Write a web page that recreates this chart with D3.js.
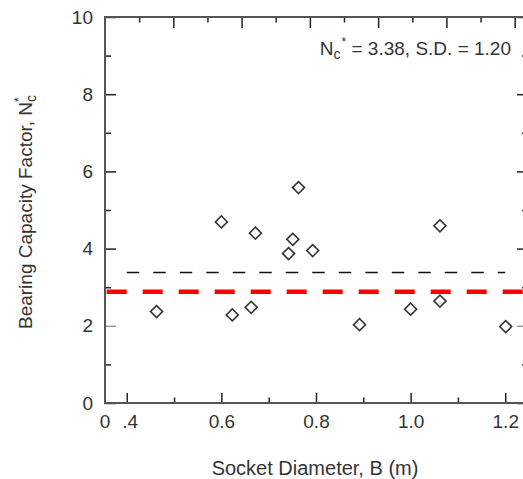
<!DOCTYPE html>
<html>
<head>
<meta charset="utf-8">
<script src="https://cdn.jsdelivr.net/npm/d3@7"></script>
<style>
  body { margin: 0; background: #fff; }
  svg { display: block; font-family: "Liberation Sans", Arial, sans-serif; }
</style>
</head>
<body>
<svg id="chart" width="523" height="479"></svg>
<script>
// socket diameter B (m) and back-calculated Nc* for each test
const diameters = [0.463, 0.600, 0.623, 0.663, 0.672, 0.742, 0.751, 0.763, 0.793, 0.892, 1.000, 1.062, 1.062, 1.201];
const ncValues   = [2.37, 4.69, 2.28, 2.48, 4.40, 3.87, 4.24, 5.58, 3.95, 2.03, 2.43, 2.64, 4.59, 1.98];

const meanNc = 3.38;     // black dashed line
const designNc = 2.88;   // red dashed line

const xMajor = [0.4, 0.6, 0.8, 1.0, 1.2];
const xMajorLabels = [".4", "0.6", "0.8", "1.0", "1.2"];
const xMinor = [0.5, 0.7, 0.9, 1.1];
const yMajor = [0, 2, 4, 6, 8, 10];
const yMinor = [1, 3, 5, 7, 9];
const topMajor = [1, 2, 3, 4, 5, 6];
const topMinor = [0.5, 1.5, 2.5, 3.5, 4.5, 5.5];

const plotL = 105, plotR = 527, plotT = 17, plotB = 403;

const svg = d3.select("#chart");

let x = d3.scaleLinear().domain([0.354, 1.246]).range([plotL, plotR]);
let y = d3.scaleLinear().domain([0, 10]).range([plotB, plotT]);
let xTop = d3.scaleLinear().domain([0, 6.18]).range([plotL, plotR]);

const tickColor = "#222";

function styleAxis(g) {
    g.select(".domain").remove();
    g.selectAll(".tick line").attr("stroke", tickColor).attr("stroke-width", 1.5);
    g.selectAll(".tick text")
        .attr("fill", "#333")
        .style("font-size", "19px")
        .style("font-family", "'Liberation Sans', Arial, sans-serif");
}

// left axis
svg.append("g").attr("transform", `translate(${plotL},0)`)
    .call(d3.axisLeft(y).tickValues(yMajor).tickSize(-11).tickPadding(12).tickFormat(d3.format("d")))
    .call(styleAxis);
svg.append("g").attr("transform", `translate(${plotL},0)`)
    .call(d3.axisLeft(y).tickValues(yMinor).tickSize(-6).tickFormat(""))
    .call(styleAxis);

// right axis (ticks only)
svg.append("g").attr("transform", `translate(${plotR},0)`)
    .call(d3.axisRight(y).tickValues(yMajor).tickSize(-10).tickFormat(""))
    .call(styleAxis);
svg.append("g").attr("transform", `translate(${plotR},0)`)
    .call(d3.axisRight(y).tickValues(yMinor).tickSize(-5).tickFormat(""))
    .call(styleAxis);

// the y = 2 ticks look lighter in the original
svg.selectAll(".tick").filter(d => d === 2).select("line").attr("stroke", "#999");

// bottom axis
svg.append("g").attr("transform", `translate(0,${plotB})`)
    .call(d3.axisBottom(x).tickValues(xMajor).tickSize(-10).tickPadding(12)
        .tickFormat((d, i) => xMajorLabels[i]))
    .call(styleAxis);
svg.append("g").attr("transform", `translate(0,${plotB})`)
    .call(d3.axisBottom(x).tickValues(xMinor).tickSize(-5.5).tickFormat(""))
    .call(styleAxis);

// top axis (ticks only)
svg.append("g").attr("transform", `translate(0,${plotT})`)
    .call(d3.axisTop(xTop).tickValues(topMajor).tickSize(-11).tickFormat(""))
    .call(styleAxis);
svg.append("g").attr("transform", `translate(0,${plotT})`)
    .call(d3.axisTop(xTop).tickValues(topMinor).tickSize(-5.5).tickFormat(""))
    .call(styleAxis);

// nudge ".4" a little right, it reads off-centre in the original
svg.selectAll(".tick text").filter(function () { return this.textContent === ".4"; })
    .attr("dx", "3");

// the origin "0" under the axis corner
svg.append("text")
    .attr("x", plotL).attr("y", plotB + 12)
    .attr("dy", "0.71em")
    .attr("text-anchor", "middle")
    .attr("fill", "#333")
    .style("font-size", "19px")
    .text("0");

// frame
svg.append("rect")
    .attr("x", plotL).attr("y", plotT)
    .attr("width", plotR - plotL).attr("height", plotB - plotT)
    .attr("fill", "none").attr("stroke", "#555").attr("stroke-width", 2);

// reference lines
svg.append("line")
    .attr("x1", x(0.4)).attr("x2", x(1.2))
    .attr("y1", y(meanNc)).attr("y2", y(meanNc))
    .attr("stroke", "#111").attr("stroke-width", 1.6)
    .attr("stroke-dasharray", "12.5,14");

svg.append("line")
    .attr("x1", plotL + 1.7).attr("x2", plotR)
    .attr("y1", y(designNc)).attr("y2", y(designNc))
    .attr("stroke", "#ff0000").attr("stroke-width", 4.5)
    .attr("stroke-dasharray", "20,16");

// data points
const diamond = d3.symbol().type(d3.symbolSquare).size(72);
svg.append("g").selectAll("path")
    .data(diameters.map((d, i) => [d, ncValues[i]]))
    .join("path")
    .attr("d", diamond)
    .attr("transform", d => `translate(${x(d[0])},${y(d[1])}) rotate(45)`)
    .attr("fill", "#fff")
    .attr("stroke", "#333")
    .attr("stroke-width", 1.6);

// annotation
const note = svg.append("text")
    .attr("x", 511).attr("y", 55)
    .attr("text-anchor", "end")
    .attr("fill", "#333")
    .style("font-size", "19px");
note.append("tspan").text("N");
note.append("tspan").attr("dy", 4).style("font-size", "14px").text("c");
note.append("tspan").attr("dy", -13).attr("dx", 1).style("font-size", "12px").text("*");
note.append("tspan").attr("dy", 9).text(" = 3.38, S.D. = 1.20");

// axis titles
svg.append("text")
    .attr("x", (plotL + plotR) / 2 - 1).attr("y", 475)
    .attr("text-anchor", "middle")
    .attr("fill", "#333")
    .style("font-size", "20px")
    .text("Socket Diameter, B (m)");

const yTitle = svg.append("text")
    .attr("transform", `translate(32,${(plotT + plotB) / 2 + 2}) rotate(-90)`)
    .attr("text-anchor", "middle")
    .attr("fill", "#333")
    .style("font-size", "19px");
yTitle.append("tspan").text("Bearing Capacity Factor, N");
yTitle.append("tspan").attr("dy", 4).style("font-size", "14px").text("c");
yTitle.append("tspan").attr("dy", -13).attr("dx", -7).style("font-size", "12px").text("*");
</script>
</body>
</html>
